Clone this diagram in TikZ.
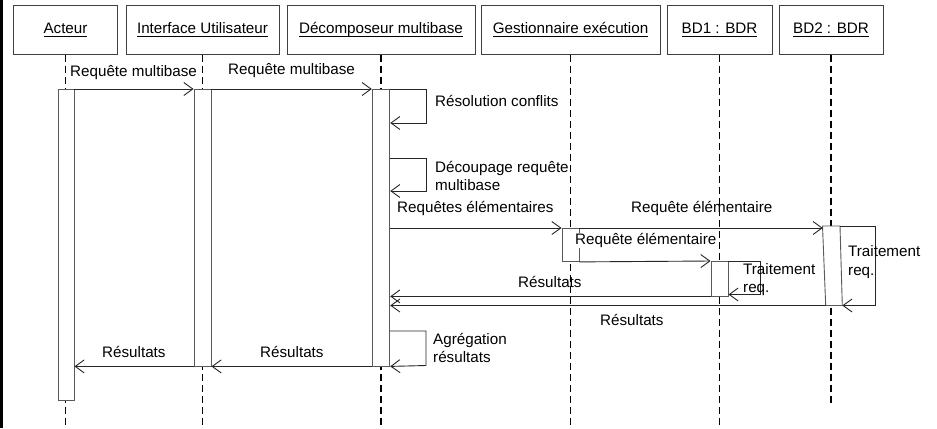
\documentclass[tikz,border=0pt]{standalone}
\usepackage{fontspec}
\setmainfont{Liberation Sans}
\usetikzlibrary{arrows.meta}
\newcommand\ulab[1]{\setbox0\hbox{#1}\rlap{\rule[-3bp]{\wd0}{0.9bp}}\box0}
\begin{document}
\begin{tikzpicture}[x=1bp,y=-1bp,
  font=\fontsize{15.2bp}{18bp}\selectfont,
  hdr/.style={draw=black!75, line width=1bp, fill=white, inner sep=0,
    minimum height=49bp, text height=11bp, text depth=3bp},
  bar/.style={draw=black!65, line width=0.9bp, fill=white, inner sep=0, anchor=north},
  life/.style={line width=1.7bp, dash pattern=on 7.5bp off 3.5bp},
  msg/.style={draw=black!85, line width=0.9bp,
    -{Straight Barb[length=9bp,width=13bp,line width=0.9bp]}},
  lbl/.style={inner sep=0, anchor=base west}]
\useasboundingbox (0,0) rectangle (937,428);
\coordinate (bot) at (0,428);
\coordinate (bot2) at (0,403);
% left border
\draw[line width=3.2bp] (1.6,0) -- (1.6,428);
% headers
\node[hdr, minimum width=103bp] (hA)  at (65.5,29.5)  {\ulab{Acteur}};
\node[hdr, minimum width=153bp] (hI)  at (202.5,29.5) {\ulab{Interface Utilisateur}};
\node[hdr, minimum width=188bp] (hD)  at (381,29.5)   {\ulab{Décomposeur multibase}};
\node[hdr, minimum width=179bp] (hG)  at (570.5,29.5) {\ulab{Gestionnaire exécution}};
\node[hdr, minimum width=105bp] (hB1) at (719.5,29.5) {\ulab{BD1 : BDR}};
\node[hdr, minimum width=104bp] (hB2) at (831,29.5)   {\ulab{BD2 : BDR}};
% lifelines
\draw[life] (hA.south)  -- (hA.south |- bot);
\draw[life] (hI.south)  -- (hI.south |- bot);
\draw[life] (hD.south)  -- (hD.south |- bot);
\draw[life] (hG.south)  -- (hG.south |- bot);
\draw[life] (hB1.south) -- (hB1.south |- bot);
\draw[life] (hB2.south) -- (hB2.south |- bot2);
% activation bars
\node[bar, minimum width=16bp, minimum height=311bp]   (aA)  at (66,89)    {};
\node[bar, minimum width=17bp, minimum height=276.5bp] (aI)  at (202.5,89) {};
\node[bar, minimum width=17.5bp, minimum height=276.5bp] (aD) at (381,89)  {};
\node[bar, minimum width=17bp, minimum height=33bp]    (aG)  at (570.5,228) {};
\node[bar, minimum width=17bp, minimum height=34.5bp]  (aB1) at (719.5,261) {};
\coordinate (b2tl) at (822.5,226);
\coordinate (b2tr) at (840,226);
\coordinate (b2br) at (842.3,305.5);
\coordinate (b2bl) at (825.7,305.5);
\draw[draw=black!65, line width=0.9bp, fill=white] (b2tl) -- (b2tr) -- (b2br) -- (b2bl) -- cycle;
% messages
\draw[msg] (aA.north east) -- (aI.north west);
\draw[msg] (aI.north east) -- (aD.north west);
\draw[msg] (aD.north east) -- (426,89) -- (426,123) -- (aD.east |- 0,123);
\draw[msg] (aD.east |- 0,158) -- (426,158) -- (426,191) -- (aD.east |- 0,191);
\draw[msg] (aD.east |- aG.north) -- (aG.north west);
\draw[msg] (aG.north east) -- (822.8,228);
\draw[msg] (aG.south east) -- (aB1.north west);
\draw[msg] (aB1.north east) -- (760,261) -- (760,294.5) -- (aB1.east |- 0,294.5);
\draw[msg] (aB1.south west) -- (aD.east |- aB1.south);
\draw[msg] (b2tr) -- (875,226) -- (875,305.5) -- (b2br);
\draw[msg] (b2bl) -- (aD.east |- b2bl);
\draw[msg] (aD.east |- 0,331) -- (426,331) -- (426,365.5) -- (aD.south east);
\draw[msg] (aD.south west) -- (aI.south east);
\draw[msg] (aI.south west) -- (aA.east |- aI.south);
% labels
\node[lbl] (l1)  at (70,76)    {Requête multibase};
\node[lbl] (l2)  at (228,74)   {Requête multibase};
\node[lbl] (l3)  at (435,106)  {Résolution conflits};
\node[lbl] (l4a) at (435,172.5) {Découpage requête};
\node[lbl] (l4b) at (435,190.5) {multibase};
\node[lbl] (l5)  at (397,212)  {Requêtes élémentaires};
\node[lbl] (l6)  at (631,212)  {Requête élémentaire};
\node[lbl, fill=white, inner ysep=0.5bp] (l7) at (575,244.5) {Requête élémentaire};
\node[lbl] (l8a) at (743,274)  {Traitement};
\node[lbl] (l8b) at (743,292)  {req.};
\node[lbl] (l9)  at (518,287)  {Résultats};
\node[lbl] (l10a) at (848,256.5) {Traitement};
\node[lbl] (l10b) at (848,275.5) {req.};
\node[lbl] (l11) at (600,325.5) {Résultats};
\node[lbl] (l12a) at (433,344) {Agrégation};
\node[lbl] (l12b) at (433,362) {résultats};
\node[lbl] (l13) at (260,357)  {Résultats};
\node[lbl] (l14) at (102,357)  {Résultats};
\end{tikzpicture}
\end{document}
